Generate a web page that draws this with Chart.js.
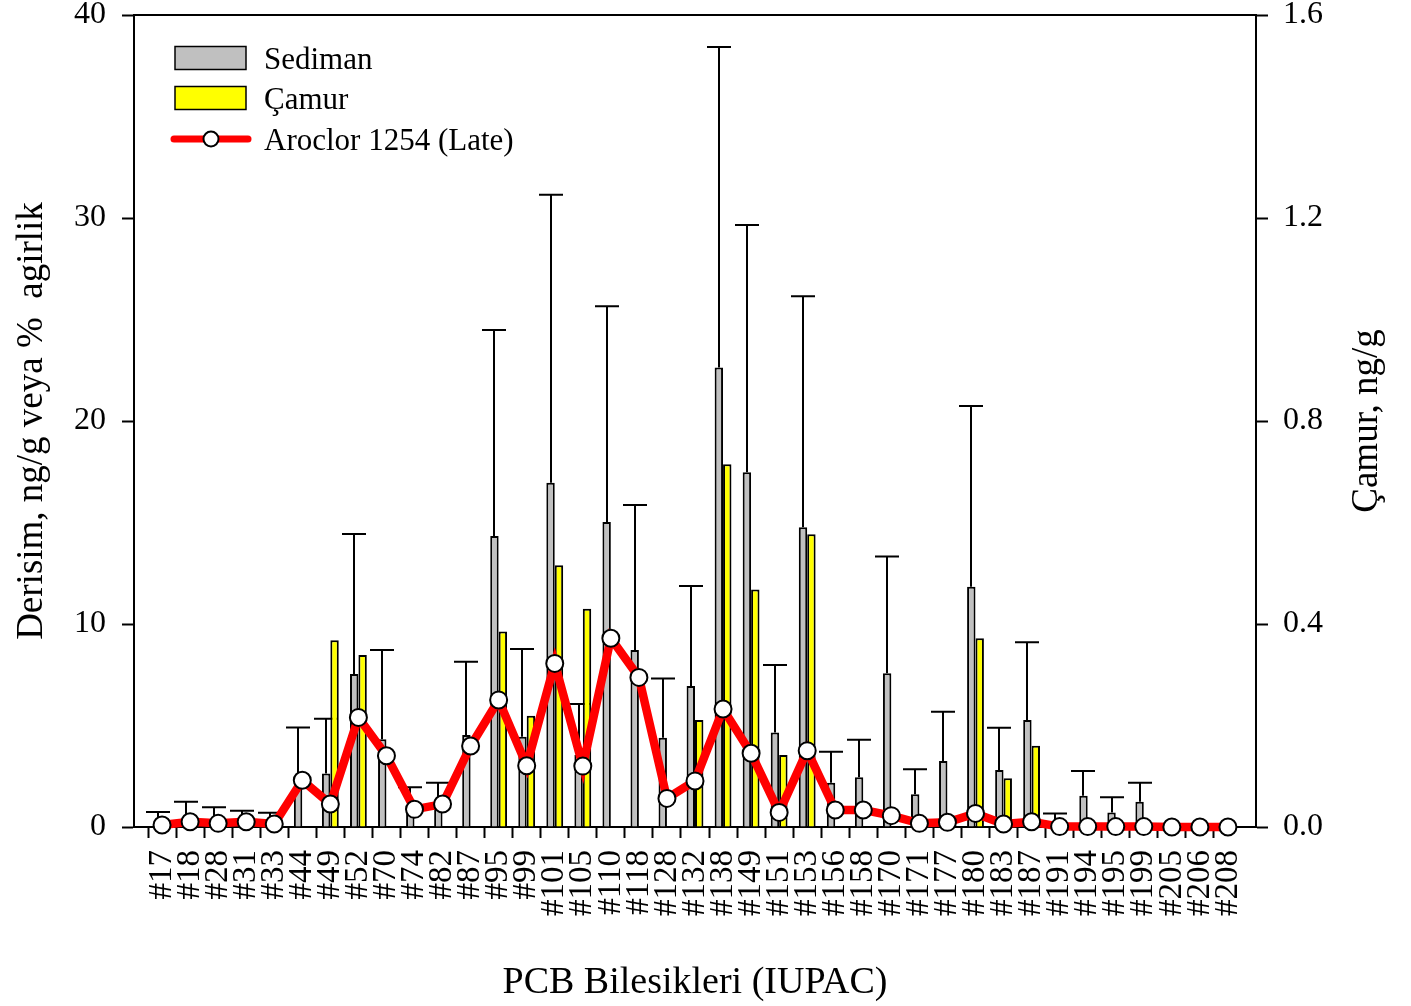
<!DOCTYPE html>
<html>
<head>
<meta charset="utf-8">
<script src="https://cdn.jsdelivr.net/npm/chart.js@4/dist/chart.umd.min.js"></script>
<style>
  html, body { margin: 0; padding: 0; background: #fff; }
  #wrap { width: 1411px; height: 1006px; }
</style>
</head>
<body>
<div id="wrap"><canvas id="c" width="1411" height="1006"></canvas></div>
<script>
const categories = ['#17','#18','#28','#31','#33','#44','#49','#52','#70','#74','#82','#87','#95','#99','#101','#105','#110','#118','#128','#132','#138','#149','#151','#153','#156','#158','#170','#171','#177','#180','#183','#187','#191','#194','#195','#199','#205','#206','#208'];
const sediman = [0.3,0.4,0.3,0.3,0.2,2.1,2.64,7.54,4.32,0.9,1.2,4.53,14.33,4.45,16.96,3.55,15.02,8.72,4.4,6.95,22.64,17.47,4.66,14.76,2.18,2.45,7.57,1.61,3.25,11.84,2.81,5.27,0.1,1.54,0.71,1.25,0,0,0];
const sedimanErr = [0.44,0.85,0.67,0.5,0.5,2.8,2.69,6.89,4.4,1.06,0.98,3.61,10.15,4.32,14.19,2.51,10.63,7.14,2.92,4.92,15.78,12.19,3.32,11.38,1.53,1.85,5.75,1.23,2.43,8.9,2.08,3.83,0.57,1.22,0.75,0.93,0,0,0];
const camur = [0,0,0,0,0,0,0.368,0.339,0,0,0,0,0.385,0.219,0.516,0.43,0,0,0,0.211,0.715,0.468,0.142,0.577,0,0,0,0,0,0.372,0.096,0.16,0,0,0,0,0,0,0];
const aroclor = [0.1,0.26,0.18,0.26,0.15,2.3,1.13,5.4,3.51,0.87,1.13,3.99,6.26,3.02,8.06,3.0,9.3,7.37,1.41,2.27,5.81,3.63,0.72,3.76,0.84,0.84,0.56,0.18,0.23,0.67,0.15,0.26,0.02,0.02,0.02,0.02,0,0,0];
const leftTicks = [0,10,20,30,40];
const rightTicks = [0,0.4,0.8,1.2,1.6];
const seriesNames = ['Sediman','Çamur','Aroclor 1254 (Late)'];
const axisTitles = { x: 'PCB Bilesikleri (IUPAC)', y: 'Derisim, ng/g veya %  agirlik', y1: 'Çamur, ng/g' };

// pad one empty slot at each end of the category axis
const pad = a => [null, ...a, null];
const labels = ['', ...categories, ''];

const FONT = "'Liberation Serif', 'Times New Roman', serif";
Chart.defaults.font.family = FONT;
Chart.defaults.color = '#000';

const errorBars = {
  id: 'errorBars',
  beforeDatasetsDraw(chart) {
    const meta = chart.getDatasetMeta(0);
    const ys = chart.scales.y;
    const ctx = chart.ctx;
    const vals = pad(sediman), errs = pad(sedimanErr);
    ctx.save();
    ctx.strokeStyle = '#000';
    ctx.lineWidth = 2;
    meta.data.forEach((bar, i) => {
      const v = vals[i], e = errs[i];
      if (v == null || !e) return;
      const x = Math.round(bar.x);
      const y0 = ys.getPixelForValue(v);
      const y1 = ys.getPixelForValue(v + e);
      ctx.beginPath();
      ctx.moveTo(x, y0); ctx.lineTo(x, y1);
      ctx.moveTo(x - 12, y1); ctx.lineTo(x + 12, y1);
      ctx.stroke();
    });
    ctx.restore();
  }
};

const frameAndLegend = {
  id: 'frameAndLegend',
  afterDraw(chart) {
    const ctx = chart.ctx;
    const a = chart.chartArea;
    ctx.save();
    // top frame line
    ctx.strokeStyle = '#000';
    ctx.lineWidth = 2;
    ctx.beginPath();
    ctx.moveTo(a.left - 1, a.top); ctx.lineTo(a.right + 1, a.top);
    ctx.stroke();

    // legend
    const ds = chart.data.datasets;
    const bx = a.left + 41, bw = 71, bh = 23;
    const rows = [a.top + 43, a.top + 83, a.top + 124];
    const tdy = 3;
    ctx.font = '31px ' + FONT;
    ctx.textBaseline = 'middle';
    ctx.textAlign = 'left';
    for (let k = 0; k < 2; k++) {
      ctx.fillStyle = ds[k].backgroundColor;
      ctx.fillRect(bx, rows[k] - bh / 2, bw, bh);
      ctx.lineWidth = 1.5;
      ctx.strokeStyle = '#000';
      ctx.strokeRect(bx, rows[k] - bh / 2, bw, bh);
      ctx.fillStyle = '#000';
      ctx.fillText(ds[k].label, a.left + 130, rows[k] + tdy);
    }
    ctx.strokeStyle = ds[2].borderColor;
    ctx.lineWidth = 7;
    ctx.lineCap = 'round';
    ctx.beginPath();
    ctx.moveTo(bx - 1, rows[2]); ctx.lineTo(bx + bw + 2, rows[2]);
    ctx.stroke();
    ctx.beginPath();
    ctx.arc(bx + 36, rows[2], 7.5, 0, Math.PI * 2);
    ctx.fillStyle = '#fff';
    ctx.fill();
    ctx.lineWidth = 2;
    ctx.strokeStyle = '#000';
    ctx.stroke();
    ctx.fillStyle = '#000';
    ctx.fillText(ds[2].label, a.left + 130, rows[2] + tdy);

    // right axis title, reading bottom to top
    ctx.translate(1367, (a.top + a.bottom) / 2);
    ctx.rotate(-Math.PI / 2);
    ctx.font = '37px ' + FONT;
    ctx.textAlign = 'center';
    ctx.textBaseline = 'middle';
    ctx.fillText(axisTitles.y1, 0, 0);
    ctx.restore();
  }
};

const tickGrid = {
  drawOnChartArea: false,
  drawTicks: true,
  tickLength: 12,
  tickWidth: 2,
  tickColor: '#000'
};

const noPad = s => { s.paddingTop = 0; s.paddingBottom = 0; s.paddingLeft = 0; s.paddingRight = 0; };

new Chart(document.getElementById('c'), {
  data: {
    labels: labels,
    datasets: [
      {
        type: 'bar', label: seriesNames[0], data: pad(sediman), yAxisID: 'y', order: 1,
        backgroundColor: '#c0c0c0', borderColor: '#000', borderWidth: 2,
        categoryPercentage: 0.6, barPercentage: 1.0
      },
      {
        type: 'bar', label: seriesNames[1], data: pad(camur), yAxisID: 'y1', order: 1,
        backgroundColor: '#ffff00', borderColor: '#000', borderWidth: 2,
        categoryPercentage: 0.6, barPercentage: 1.0
      },
      {
        type: 'line', label: seriesNames[2], data: pad(aroclor), yAxisID: 'y', order: 0,
        borderColor: '#ff0000', borderWidth: 8.5, tension: 0, clip: false,
        pointRadius: 8.5, pointBorderWidth: 2, pointBackgroundColor: '#fff', pointBorderColor: '#000',
        pointHoverRadius: 8.5
      }
    ]
  },
  options: {
    responsive: false,
    animation: false,
    layout: { padding: { top: 15, left: 0, right: 0, bottom: 0 } },
    plugins: { legend: { display: false }, tooltip: { enabled: false } },
    scales: {
      x: {
        type: 'category',
        offset: false,
        grid: Object.assign({}, tickGrid, {
          tickLength: 11,
          tickColor: c => (c.index === 0 || c.index === labels.length - 1) ? 'rgba(0,0,0,0)' : '#000'
        }),
        border: { display: true, width: 2, color: '#000' },
        ticks: { autoSkip: false, minRotation: 90, maxRotation: 90, padding: 12, font: { size: 33 }, color: '#000' },
        title: { display: true, text: axisTitles.x, font: { size: 38 }, padding: { top: 0, bottom: 0 }, color: '#000' },
        afterFit: s => { s.height = 179; noPad(s); }
      },
      y: {
        position: 'left',
        min: 0, max: 40,
        grid: tickGrid,
        border: { display: true, width: 2, color: '#000' },
        ticks: { padding: 16, font: { size: 32 }, color: '#000' },
        afterBuildTicks: s => { s.ticks = leftTicks.map(v => ({ value: v })); },
        title: { display: true, text: axisTitles.y, font: { size: 37 }, padding: { top: 10, bottom: 0 }, color: '#000' },
        afterFit: s => { s.width = 134; noPad(s); }
      },
      y1: {
        position: 'right',
        min: 0, max: 1.6,
        grid: tickGrid,
        border: { display: true, width: 2, color: '#000' },
        ticks: { padding: 15, font: { size: 32 }, color: '#000', callback: v => Number(v).toFixed(1) },
        afterBuildTicks: s => { s.ticks = rightTicks.map(v => ({ value: v })); },
        afterFit: s => { s.width = 155; noPad(s); }
      }
    }
  },
  plugins: [errorBars, frameAndLegend]
});
</script>
</body>
</html>
